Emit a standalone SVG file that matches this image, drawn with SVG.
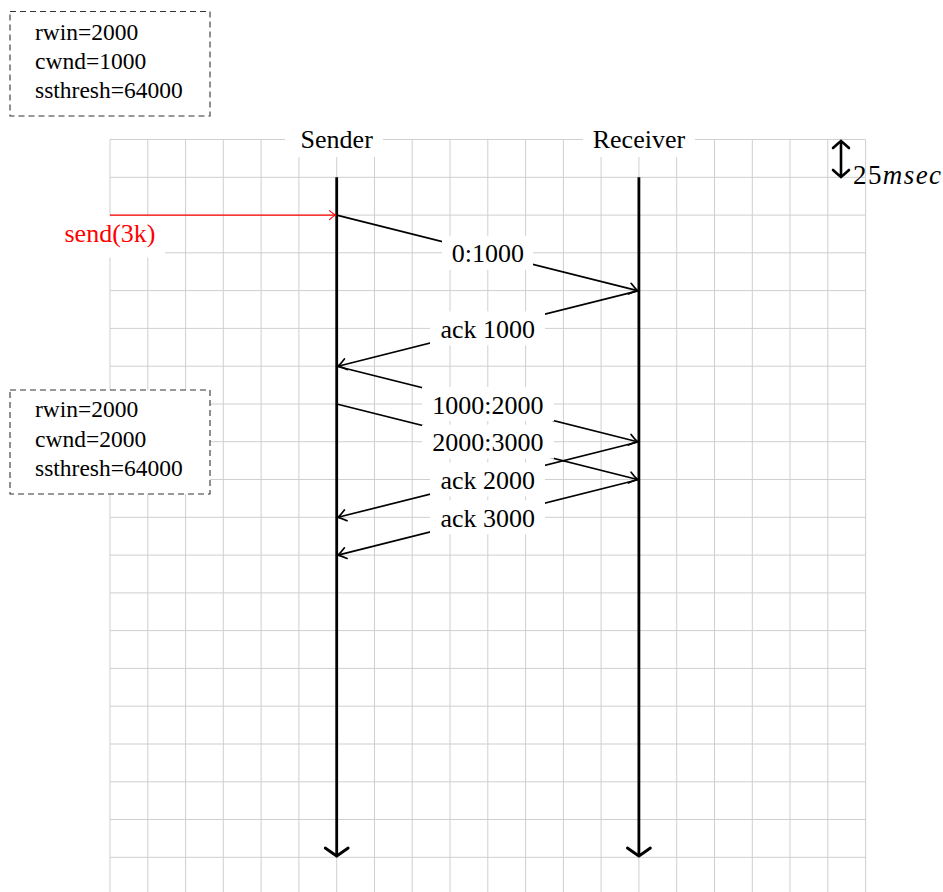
<svg xmlns="http://www.w3.org/2000/svg" width="943" height="892" viewBox="0 0 943 892">
<style>
.grid{stroke:#cfcfcf;stroke-width:1;fill:none}
.state{fill:none;stroke:#333;stroke-width:1.1;stroke-dasharray:6 4}
.stxt{font-family:"Liberation Serif","Times New Roman",serif;font-size:23.5px;fill:#000}
.lbl{font-family:"Liberation Serif","Times New Roman",serif;font-size:26px;fill:#000;text-anchor:middle}
.bg{fill:#fff;stroke:none}
.life{stroke:#000;stroke-width:2.8;fill:none;marker-end:url(#bigto)}
.msg{stroke:#000;stroke-width:1.7;fill:none;marker-end:url(#to)}
</style>
<defs>
<marker id="to" markerUnits="userSpaceOnUse" viewBox="-15 -15 30 30" markerWidth="30" markerHeight="30" refX="0" refY="0" orient="auto" overflow="visible">
<path d="M-8,-5.5 Q-3,-1.5 0,0 Q-3,1.5 -8,5.5" fill="none" stroke="#000" stroke-width="1.7" stroke-linecap="round"/>
</marker>
<marker id="redto" markerUnits="userSpaceOnUse" viewBox="-15 -15 30 30" markerWidth="30" markerHeight="30" refX="0" refY="0" orient="auto" overflow="visible">
<path d="M-6,-4.5 Q-2,-1 0,0 Q-2,1 -6,4.5" fill="none" stroke="#f00" stroke-width="1.1" stroke-linecap="round"/>
</marker>
<marker id="bigto" markerUnits="userSpaceOnUse" viewBox="-20 -20 40 40" markerWidth="40" markerHeight="40" refX="0" refY="0" orient="auto" overflow="visible">
<path d="M-8,-11.5 Q-2,-3 0,0 Q-2,3 -8,11.5" fill="none" stroke="#000" stroke-width="2.8" stroke-linecap="round"/>
</marker>
<marker id="bigto2" markerUnits="userSpaceOnUse" viewBox="-20 -20 40 40" markerWidth="40" markerHeight="40" refX="0" refY="0" orient="auto-start-reverse" overflow="visible">
<path d="M-7,-8 Q-2,-2.5 0,0 Q-2,2.5 -7,8" fill="none" stroke="#000" stroke-width="2.6" stroke-linecap="round"/>
</marker>
</defs>
<rect width="943" height="892" fill="#fff"/>
<g id="grid">
<path class="grid" d="M110,139.5V892M147.8,139.5V892M185.6,139.5V892M223.3,139.5V892M261.1,139.5V892M298.9,139.5V892M336.7,139.5V892M374.5,139.5V892M412.2,139.5V892M450,139.5V892M487.8,139.5V892M525.6,139.5V892M563.4,139.5V892M601.1,139.5V892M638.9,139.5V892M676.7,139.5V892M714.5,139.5V892M752.3,139.5V892M790,139.5V892M827.8,139.5V892M865.6,139.5V892
M110,139.5H865.6M110,177.3H865.6M110,215.1H865.6M110,252.8H865.6M110,290.6H865.6M110,328.4H865.6M110,366.2H865.6M110,404H865.6M110,441.7H865.6M110,479.5H865.6M110,517.3H865.6M110,555.1H865.6M110,592.9H865.6M110,630.6H865.6M110,668.4H865.6M110,706.2H865.6M110,744H865.6M110,781.8H865.6M110,819.5H865.6M110,857.3H865.6"/>
</g>
<g id="state1">
<rect class="state" x="10" y="11.5" width="200" height="104.5"/>
<text class="stxt" x="35" y="40">rwin=2000</text>
<text class="stxt" x="35" y="69">cwnd=1000</text>
<text class="stxt" x="35" y="97.5">ssthresh=64000</text>
</g>
<g id="state2">
<rect class="bg" x="10" y="390" width="200" height="104"/>
<rect class="state" x="10" y="390" width="200" height="104"/>
<text class="stxt" x="35" y="417">rwin=2000</text>
<text class="stxt" x="35" y="446.5">cwnd=2000</text>
<text class="stxt" x="35" y="475.5">ssthresh=64000</text>
</g>
<g id="sender">
<rect class="bg" x="285" y="122" width="98" height="35"/>
<text class="lbl" x="336.7" y="147.7">Sender</text>
<line class="life" x1="336.7" y1="177.3" x2="336.7" y2="856"/>
</g>
<g id="receiver">
<rect class="bg" x="583" y="122" width="112" height="35"/>
<text class="lbl" x="638.9" y="147.7">Receiver</text>
<line class="life" x1="638.9" y1="177.3" x2="638.9" y2="856"/>
</g>
<g id="scale">
<line x1="841" y1="141" x2="841" y2="177" stroke="#000" stroke-width="2.6" marker-start="url(#bigto2)" marker-end="url(#bigto2)"/>
<text x="853" y="184" font-family="'Liberation Serif','Times New Roman',serif" font-size="27" textLength="88" lengthAdjust="spacing">25<tspan font-style="italic">msec</tspan></text>
</g>
<g id="connectors">
<line x1="110" y1="215.1" x2="335.5" y2="215.1" stroke="#f00" stroke-width="1.1" marker-end="url(#redto)"/>
<line class="msg" x1="336.7" y1="215.1" x2="637.5" y2="290.6"/>
<line class="msg" x1="638.9" y1="290.6" x2="338" y2="366.2"/>
<line class="msg" x1="336.7" y1="366.2" x2="637.5" y2="441.7"/>
<line class="msg" x1="336.7" y1="404" x2="637.5" y2="479.5"/>
<line class="msg" x1="638.9" y1="441.7" x2="338" y2="517.3"/>
<line class="msg" x1="638.9" y1="479.5" x2="338" y2="555.1"/>
</g>
<g id="send-label">
<rect class="bg" x="56" y="216.5" width="109" height="41"/>
<text class="lbl" x="110" y="242" style="fill:#f00">send(3k)</text>
</g>
<g id="label-m1">
<rect class="bg" x="442" y="235.8" width="91" height="34"/>
<text class="lbl" x="487.8" y="262.3">0:1000</text>
</g>
<g id="label-m2">
<rect class="bg" x="430" y="311.4" width="115" height="34"/>
<text class="lbl" x="487.8" y="337.9">ack 1000</text>
</g>
<g id="label-m3">
<rect class="bg" x="422" y="387" width="132" height="34"/>
<text class="lbl" x="487.8" y="413.5">1000:2000</text>
</g>
<g id="label-m4">
<rect class="bg" x="422" y="424.7" width="132" height="34"/>
<text class="lbl" x="487.8" y="451.2">2000:3000</text>
</g>
<g id="label-m5">
<rect class="bg" x="430" y="462.5" width="115" height="34"/>
<text class="lbl" x="487.8" y="489">ack 2000</text>
</g>
<g id="label-m6">
<rect class="bg" x="430" y="500.3" width="115" height="34"/>
<text class="lbl" x="487.8" y="526.8">ack 3000</text>
</g>
</svg>
